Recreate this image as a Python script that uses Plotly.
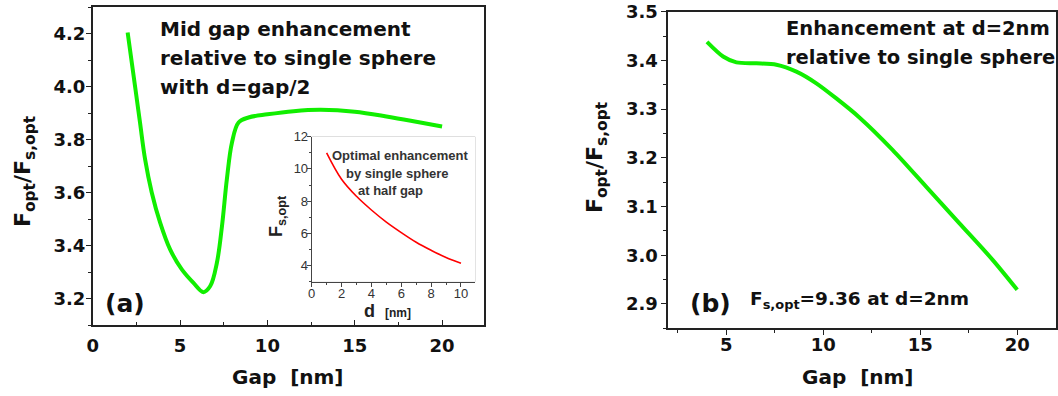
import plotly.graph_objects as go

# ---- data ----
gap_a = [2.0, 2.43, 2.71, 3.0, 3.38, 3.86, 4.43, 5.1, 5.77, 6.34, 6.73, 7.11, 7.40, 7.68,
         7.97, 8.35, 8.92, 10.0, 11.5, 13.05, 15.0, 16.9, 18.6, 20.0]
ratio_a = [4.204, 3.998, 3.863, 3.725, 3.60, 3.486, 3.385, 3.31, 3.259, 3.224, 3.247, 3.335,
           3.473, 3.65, 3.788, 3.864, 3.883, 3.895, 3.907, 3.912, 3.905, 3.886, 3.866, 3.849]

d_inset = [1, 2, 3, 4, 5, 6, 7, 8, 9, 10]
fs_inset = [11.0, 9.36, 8.3, 7.45, 6.7, 6.05, 5.45, 4.95, 4.5, 4.15]

gap_b = [4.0, 4.83, 5.52, 6.55, 7.58, 8.61, 9.64, 10.67, 11.86, 13.58, 15.30, 17.01, 18.72, 20.0]
ratio_b = [3.438, 3.408, 3.396, 3.394, 3.391, 3.377, 3.353, 3.322, 3.283, 3.216, 3.141, 3.066,
           2.991, 2.929]

W, H = 1058, 396
GREEN = "#11ee00"
BOLD = "DejaVu Sans"
ARIAL = "Liberation Sans"


def px(x):
    return x / W


def py(y):
    return 1 - y / H


fig = go.Figure()
fig.add_trace(go.Scatter(x=gap_a, y=ratio_a, mode="lines",
                         line=dict(color=GREEN, width=4, shape="spline", smoothing=1.0),
                         xaxis="x", yaxis="y", showlegend=False))
fig.add_trace(go.Scatter(x=gap_b, y=ratio_b, mode="lines",
                         line=dict(color=GREEN, width=4, shape="spline", smoothing=0.8),
                         xaxis="x2", yaxis="y2", showlegend=False))
fig.add_trace(go.Scatter(x=d_inset, y=fs_inset, mode="lines",
                         line=dict(color="#ff0000", width=1.6, shape="spline"),
                         xaxis="x3", yaxis="y3", showlegend=False))

tickfont_main = dict(family=BOLD, size=18, color="#111", weight="bold")
tickfont_inset = dict(family=ARIAL, size=13, color="#333")

common_main = dict(showline=True, linecolor="#222", linewidth=1.5, mirror=True, showgrid=False,
                   zeroline=False, tickfont=tickfont_main, ticklen=5, tickwidth=1.2, tickcolor="#222",
                   automargin=False)
common_inset = dict(showline=True, linecolor="#444", linewidth=1, showgrid=False, zeroline=False,
                    tickfont=tickfont_inset, ticklen=4, tickcolor="#444", automargin=False,
                    ticklabelstandoff=-4)

fig.update_layout(
    template="none",
    width=W, height=H, margin=dict(l=0, r=0, t=0, b=0, pad=0),
    paper_bgcolor="white", plot_bgcolor="white",
    xaxis=dict(domain=[px(92.7), px(484)], range=[0, 22.4], tick0=0, dtick=5, ticks="inside",
               ticklabelstandoff=4,
               minor=dict(dtick=2.5, ticklen=3, ticks="inside", tickcolor="#222"), anchor="y", **common_main),
    yaxis=dict(domain=[py(325), py(7)], range=[3.1, 4.3], tick0=0, dtick=0.2, tickformat=".1f",
               ticks="outside", ticklabelstandoff=-3,
               minor=dict(dtick=0.1, ticklen=3, ticks="outside", tickcolor="#222"),
               anchor="x", **common_main),
    xaxis2=dict(domain=[px(668.2), px(1056)], range=[2, 22], tick0=0, dtick=5, ticks="outside",
                ticklabelstandoff=-6,
                minor=dict(dtick=2.5, ticklen=3, ticks="outside", tickcolor="#222"), anchor="y2", **common_main),
    yaxis2=dict(domain=[py(328.3), py(11.7)], range=[2.85, 3.5], tick0=0, dtick=0.1, tickformat=".1f",
                ticks="outside", minor=dict(dtick=0.05, ticklen=3, ticks="outside", tickcolor="#222"),
                anchor="x2", **common_main),
    xaxis3=dict(domain=[px(311.7), px(475)], range=[0, 10.94], tick0=0, dtick=2, ticks="outside",
                minor=dict(dtick=1, ticklen=2, ticks="outside", tickcolor="#444"), anchor="y3", **common_inset),
    yaxis3=dict(domain=[py(281.7), py(136.7)], range=[3, 12], tick0=0, dtick=2, ticks="outside",
                minor=dict(dtick=1, ticklen=2, ticks="outside", tickcolor="#444"), anchor="x3", **common_inset),
)

# light frame of the inset (top/right)
fig.add_shape(type="rect", xref="paper", yref="paper", x0=px(311.7), x1=px(475), y0=py(281.7), y1=py(136.7),
              line=dict(color="#c8c8c8", width=1), layer="below")

ann = []


def text(x, y, s, size, family=BOLD, color="#111", xanchor="left", angle=0, weight="bold"):
    ann.append(dict(x=px(x), y=py(y), xref="paper", yref="paper", text=s, showarrow=False,
                    xanchor=xanchor, yanchor="middle", textangle=angle,
                    font=dict(family=family, size=size, color=color, weight=weight)))


# panel (a) texts
text(158, 29, "Mid gap enhancement", 20)
text(158, 58, "relative to single sphere", 20)
text(158, 87, "with d=gap/2", 20)
text(103, 303, "(a)", 25)
text(288, 377, "Gap  [nm]", 20, xanchor="center")
text(24, 172, "F<sub>opt</sub>/F<sub>s,opt</sub>", 22, xanchor="center", angle=-90)

# inset texts
text(400, 155, "Optimal enhancement", 13, family=ARIAL, color="#333", xanchor="center")
text(397, 173, "by single sphere", 13, family=ARIAL, color="#333", xanchor="center")
text(390, 191, "at half gap", 13, family=ARIAL, color="#333", xanchor="center")
text(387, 311, "d  <span style='font-size:12px'>[nm]</span>", 18, family=ARIAL, color="#222", xanchor="center")
text(278, 216, "F<sub>s,opt</sub>", 18, family=ARIAL, color="#222", xanchor="center", angle=-90)

# panel (b) texts
text(783.6, 29, "Enhancement at d=2nm", 19.5)
text(783.6, 58, "relative to single sphere", 19.5)
text(687.5, 303, "(b)", 25)
text(748, 300, "F<sub>s,opt</sub>=9.36 at d=2nm", 18.5)
text(858, 377, "Gap  [nm]", 20, xanchor="center")
text(596, 158, "F<sub>opt</sub>/F<sub>s,opt</sub>", 22, xanchor="center", angle=-90)

fig.update_layout(annotations=ann)
fig.write_html("out.html")
